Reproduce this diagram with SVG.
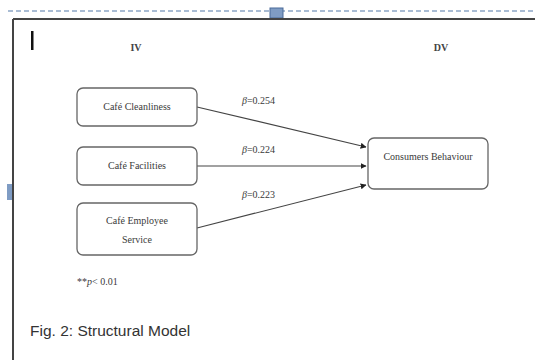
<svg xmlns="http://www.w3.org/2000/svg" width="535" height="360" viewBox="0 0 535 360">
<defs>
<style>
.box{fill:#fff;stroke:#666;stroke-width:1.3}
.t{font-family:"Liberation Serif","Times New Roman",serif;font-size:10px;fill:#3a3a3a}
.h{font-family:"Liberation Serif","Times New Roman",serif;font-size:10px;font-weight:bold;fill:#444}
.c{stroke:#444;stroke-width:1.2;fill:none}
</style>
<marker id="ah" viewBox="0 0 10 10" refX="9" refY="5" markerWidth="6" markerHeight="6" orient="auto" markerUnits="userSpaceOnUse"><path d="M0,0 L10,5 L0,10 z" fill="#222"/></marker>
</defs>
<rect width="535" height="360" fill="#fff"/>
<line x1="8" y1="11" x2="535" y2="11" stroke="#a9bcd4" stroke-width="2" stroke-dasharray="5,3"/>
<rect x="270" y="8" width="13" height="10" fill="#7f9cc4" stroke="#4a6a99" stroke-width="1"/>
<line x1="13" y1="19" x2="535" y2="19" stroke="#444" stroke-width="2"/>
<line x1="13" y1="19" x2="13" y2="360" stroke="#444" stroke-width="2"/>
<rect x="7" y="184" width="5" height="16" fill="#7f9cc4"/>
<rect x="31" y="31" width="2.5" height="19" fill="#111"/>
<text class="h" x="136" y="51" text-anchor="middle">IV</text>
<text class="h" x="441" y="51" text-anchor="middle">DV</text>
<g id="connectors">
<line class="c" x1="197" y1="107" x2="366" y2="147" marker-end="url(#ah)"/>
<line class="c" x1="197" y1="166" x2="366" y2="166" marker-end="url(#ah)"/>
<line class="c" x1="197" y1="228" x2="366" y2="185" marker-end="url(#ah)"/>
<text class="t" x="242" y="104"><tspan font-style="italic">β</tspan>=0.254</text>
<text class="t" x="242" y="153"><tspan font-style="italic">β</tspan>=0.224</text>
<text class="t" x="242" y="198"><tspan font-style="italic">β</tspan>=0.223</text>
</g>
<g id="cleanliness"><rect class="box" x="77" y="88" width="120" height="38" rx="6"/><text class="t" x="137" y="110" text-anchor="middle">Café Cleanliness</text></g>
<g id="facilities"><rect class="box" x="77" y="147" width="120" height="38" rx="6"/><text class="t" x="137" y="169" text-anchor="middle">Café Facilities</text></g>
<g id="employee"><rect class="box" x="77" y="203" width="120" height="52" rx="6"/><text class="t" x="137" y="224" text-anchor="middle">Café Employee</text><text class="t" x="137" y="243" text-anchor="middle">Service</text></g>
<g id="consumers"><rect class="box" x="368" y="138" width="120" height="51" rx="6"/><text class="t" x="428" y="160" text-anchor="middle" font-size="11">Consumers Behaviour</text></g>
<text class="t" x="77" y="285">**<tspan font-style="italic">p</tspan>&lt; 0.01</text>
<text x="30" y="336" font-family="Liberation Sans,Arial,sans-serif" font-size="15.5" fill="#333">Fig. 2: Structural Model</text>
</svg>
